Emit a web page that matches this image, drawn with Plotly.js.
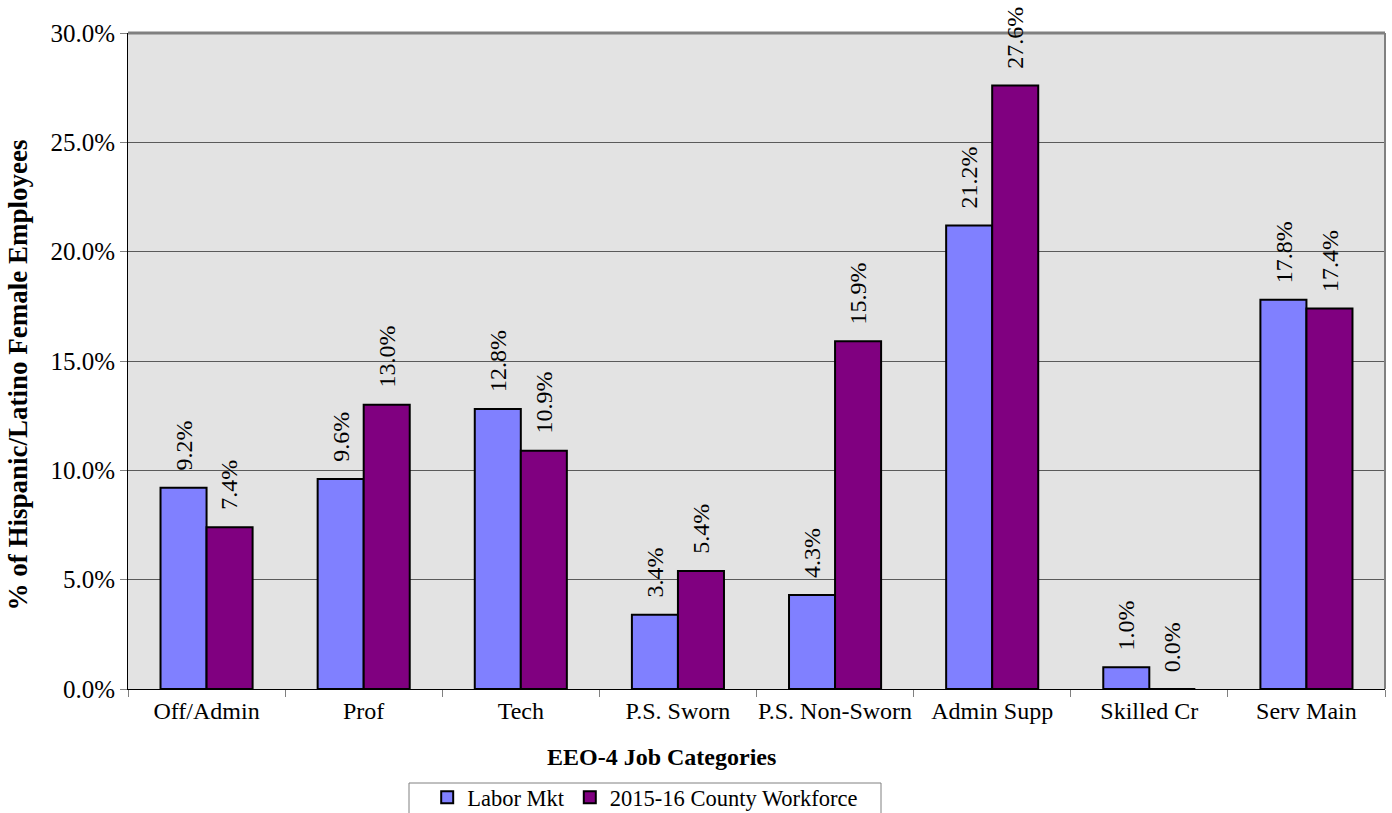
<!DOCTYPE html>
<html>
<head>
<meta charset="utf-8">
<script src="https://cdn.plot.ly/plotly-3.0.1.min.js"></script>
<style>html,body{margin:0;padding:0;background:#fff;}#chart{width:1392px;height:813px;}</style>
</head>
<body>
<div id="chart"></div>
<script>
var categories = ["Off/Admin", "Prof", "Tech", "P.S. Sworn", "P.S. Non-Sworn", "Admin Supp", "Skilled Cr", "Serv Main"];
var laborMkt = [9.2, 9.6, 12.8, 3.4, 4.3, 21.2, 1.0, 17.8];
var countyWorkforce = [7.4, 13.0, 10.9, 5.4, 15.9, 27.6, 0.0, 17.4];
var seriesNames = ["Labor Mkt", "2015-16 County Workforce"];
var yTickVals = [0, 5, 10, 15, 20, 25, 30];
var xTitle = "EEO-4 Job Categories";
var yTitle = "% of Hispanic/Latino Female Employees";

var serif = "Liberation Serif";

var traces = [
  {type: "bar", name: seriesNames[0], x: categories, y: laborMkt,
   marker: {color: "#8080ff", line: {color: "#000", width: 2}}, hoverinfo: "y"},
  {type: "bar", name: seriesNames[1], x: categories, y: countyWorkforce,
   marker: {color: "#800080", line: {color: "#000", width: 2}}, hoverinfo: "y"}
];

var annotations = [];
[laborMkt, countyWorkforce].forEach(function (vals, si) {
  vals.forEach(function (v, i) {
    annotations.push({
      x: categories[i], y: v, xref: "x", yref: "y",
      text: v.toFixed(1) + "%", showarrow: false, textangle: -90,
      xanchor: "center", yanchor: "bottom",
      xshift: si === 0 ? -23 : 23, yshift: 15,
      font: {family: serif, size: 24, color: "#000"}
    });
  });
});
annotations.push({
  xref: "paper", yref: "paper", x: 0.4248, y: -0.1037, xanchor: "center", yanchor: "middle",
  text: "<b>" + xTitle + "</b>", showarrow: false,
  font: {family: serif, size: 24, color: "#000"}
});
annotations.push({
  xref: "paper", yref: "paper", x: -0.0875, y: 0.478, xanchor: "center", yanchor: "middle",
  text: "<b>" + yTitle + "</b>", showarrow: false, textangle: -90,
  font: {family: serif, size: 27, color: "#000"}
});

var layout = {
  width: 1392, height: 813,
  margin: {l: 128, r: 7, t: 33, b: 124, pad: 0},
  paper_bgcolor: "#fff", plot_bgcolor: "#e3e3e3",
  barmode: "group", bargap: 0.414, bargroupgap: 0,
  font: {family: serif, size: 24, color: "#000"},
  showlegend: true,
  legend: {orientation: "h", xref: "container", yref: "container",
           x: 0.4635, xanchor: "center", y: 0.0455, yanchor: "top",
           borderwidth: 0, bgcolor: "rgba(0,0,0,0)",
           font: {family: serif, size: 22.5, color: "#000"}, itemwidth: 30, traceorder: "normal"},
  xaxis: {
    type: "category", tickson: "boundaries", ticks: "outside", ticklen: 7, tickcolor: "#808080",
    tickangle: 0, automargin: false,
    showline: true, linecolor: "#000", linewidth: 1, showgrid: false,
    tickfont: {family: serif, size: 24}
  },
  yaxis: {
    range: [0, 30], tickvals: yTickVals, ticktext: yTickVals.map(function (v) { return v.toFixed(1) + "%"; }),
    ticks: "outside", ticklen: 7, tickcolor: "#808080", automargin: false,
    showline: true, linecolor: "#000", linewidth: 1,
    showgrid: true, gridcolor: "#5a5a5a", gridwidth: 1, zeroline: false,
    tickfont: {family: serif, size: 25}
  },
  shapes: [
    {type: "line", xref: "paper", yref: "paper", x0: 0, x1: 1, y0: 1, y1: 1, line: {color: "#808080", width: 3}},
    {type: "line", xref: "paper", yref: "paper", x0: 1, x1: 1, y0: 0, y1: 1, line: {color: "#808080", width: 2}},
    {type: "rect", xref: "paper", yref: "paper", x0: (409 - 128) / 1257, x1: (881 - 128) / 1257,
     y0: -(783 - 689) / 656, y1: -0.25, line: {color: "#808080", width: 1}, fillcolor: "#fff"}
  ],
  annotations: annotations
};

Plotly.newPlot("chart", traces, layout, {displayModeBar: false, staticPlot: true});
</script>
</body>
</html>
